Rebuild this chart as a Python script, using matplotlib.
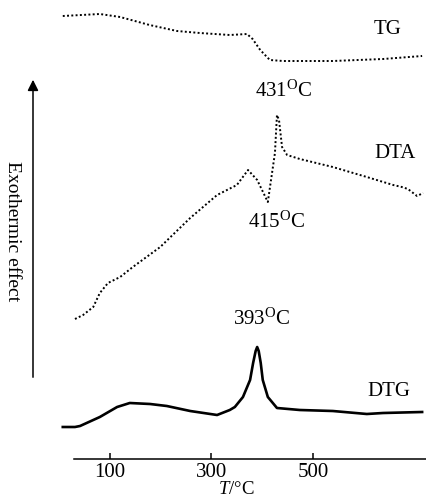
import matplotlib
matplotlib.use("Agg")
import matplotlib.pyplot as plt

plt.rcParams['font.family'] = ['Liberation Serif', 'DejaVu Serif']
plt.rcParams['mathtext.fontset'] = 'custom'
plt.rcParams['mathtext.rm'] = 'Liberation Serif'
plt.rcParams['mathtext.it'] = 'Liberation Serif:italic'

# temperature (deg C) and signal (arbitrary units, curves stacked)
tg_t = [7, 80, 120, 178, 232, 277, 336, 370, 381, 396, 415, 441, 539, 638, 715]
tg_y = [483, 485, 482, 474, 468, 466, 464, 465, 460, 449, 439, 438, 438, 440, 443]

dta_t = [31, 47, 67, 80, 96, 120, 145, 199, 258, 311, 350, 372, 390, 411,
         425, 429, 433, 439, 449, 474, 539, 606, 658, 675, 687, 705, 717]
dta_y = [180, 184, 192, 206, 216, 222, 232, 252, 281, 304, 314, 329, 319, 297,
         346, 384, 379, 352, 344, 340, 332, 322, 314, 312, 310, 303, 306]

dtg_t = [7, 31, 41, 80, 114, 139, 179, 212, 258, 311, 336, 346, 362, 376,
         382, 387, 390, 393, 397, 401, 411, 429, 474, 539, 606, 638, 715]
dtg_y = [72, 72, 73, 82, 92, 96, 95, 93, 88, 84, 89, 92, 102, 119,
         136, 148, 152, 148, 136, 119, 102, 91, 89, 88, 85, 86, 87]

ticks = [100, 300, 500]

fig = plt.figure(figsize=(4.27, 4.99), dpi=100)
ax = fig.add_axes([0, 0, 1, 1])
ax.set_xlim(-116.7, 724.6)
ax.set_ylim(0, 499)

dots = (0, (1, 1.2))
ax.plot(tg_t, tg_y, color='black', lw=1.4, linestyle=dots)
ax.plot(dta_t, dta_y, color='black', lw=1.4, linestyle=dots)
ax.plot(dtg_t, dtg_y, color='black', lw=1.9)

for s in ['top', 'left', 'right']:
    ax.spines[s].set_visible(False)
ax.spines['bottom'].set_position(('data', 40))
ax.spines['bottom'].set_bounds(29, 725)
ax.spines['bottom'].set_linewidth(1.1)
ax.set_yticks([])
ax.set_xticks(ticks)
ax.set_xticklabels([str(t) for t in ticks])
ax.tick_params(axis='x', direction='in', length=4, width=1.1, pad=3, labelsize=15)

W, H = 427.0, 499.0
def fp(x, y):
    return (x / W, 1 - y / H)

fig.text(*fp(388, 30), 'TG', fontsize=15, ha='center', va='center')
fig.text(*fp(395, 154), 'DTA', fontsize=15, ha='center', va='center')
fig.text(*fp(389, 392), 'DTG', fontsize=15, ha='center', va='center')
fig.text(*fp(284, 91), r'431$^{\rm O}$C', fontsize=15, ha='center', va='center')
fig.text(*fp(277, 222), r'415$^{\rm O}$C', fontsize=15, ha='center', va='center')
fig.text(*fp(262, 319), r'393$^{\rm O}$C', fontsize=15, ha='center', va='center')
fig.text(*fp(236, 498), r'$T$/°C', fontsize=13.5, ha='center', va='bottom')
fig.text(*fp(12, 231), 'Exothermic effect', fontsize=14, rotation=270,
         ha='center', va='center')

fig.add_artist(matplotlib.patches.FancyArrowPatch(
    fp(33, 380), fp(33, 77), transform=fig.transFigure,
    arrowstyle='-|>', mutation_scale=16, lw=1.1, color='black'))

fig.savefig('out.png', dpi=100)
